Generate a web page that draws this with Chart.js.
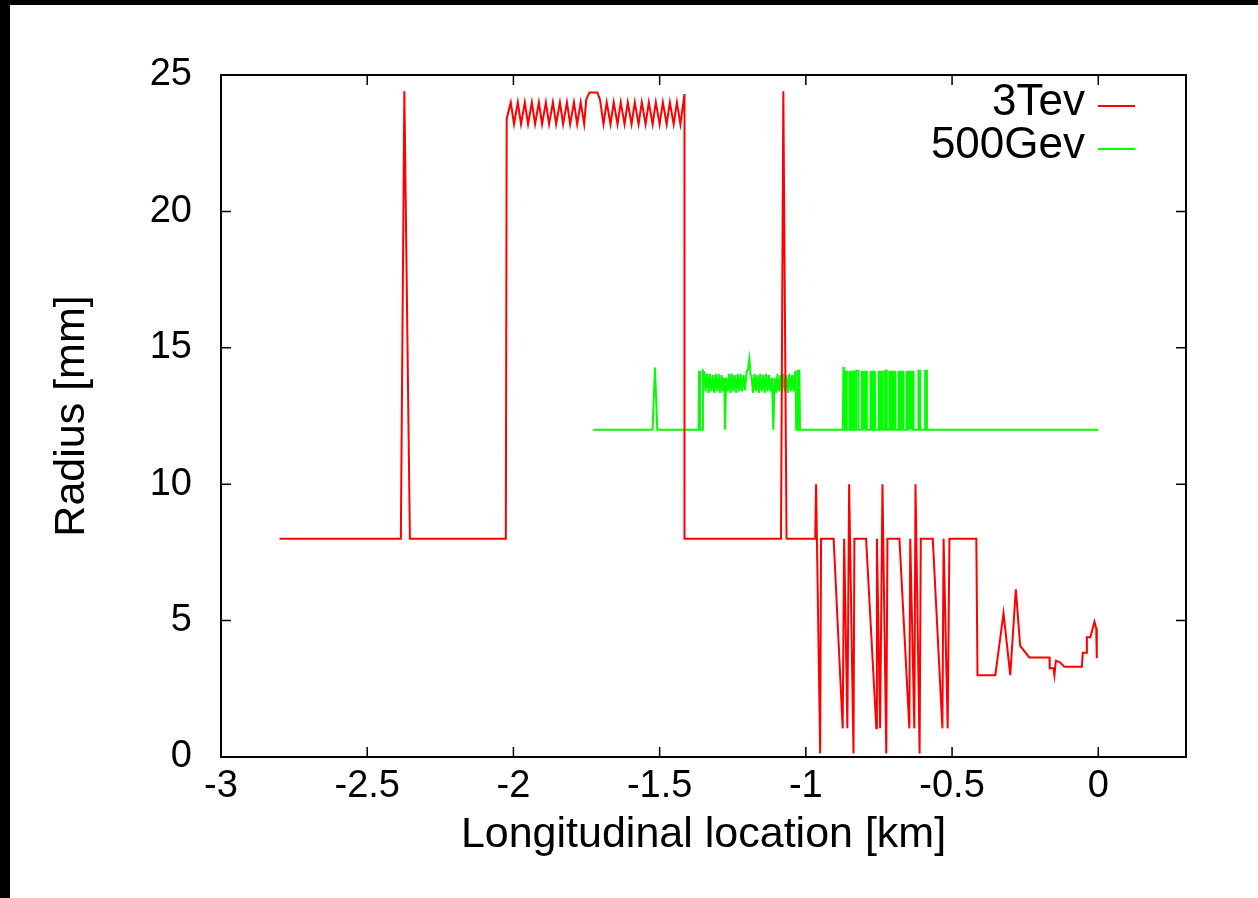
<!DOCTYPE html>
<html>
<head>
<meta charset="utf-8">
<script src="https://cdn.jsdelivr.net/npm/chart.js@4.4.1/dist/chart.umd.min.js"></script>
<style>
  html, body { margin: 0; padding: 0; background: #000; overflow: hidden; }
  #wrap { position: absolute; left: 10px; top: 5px; width: 1248px; height: 893px; background: #fff; }
</style>
</head>
<body>
<div id="wrap"><canvas id="chart" width="1248" height="893"></canvas></div>
<script>
// Axis ticks
const xTicks = [-3, -2.5, -2, -1.5, -1, -0.5, 0];
const yTicks = [0, 5, 10, 15, 20, 25];

// 3Tev series (x in km, radius in mm)
const tevX = [
  -2.800, -2.385, -2.373, -2.354, -2.026, -2.023,
  -2.009, -1.998, -1.985, -1.974, -1.961, -1.950, -1.937, -1.926, -1.913, -1.902,
  -1.889, -1.878, -1.865, -1.854, -1.841, -1.830, -1.817, -1.806, -1.793, -1.782,
  -1.770, -1.758, -1.751, -1.740, -1.713, -1.704, -1.692,
  -1.681, -1.668, -1.657, -1.644, -1.633, -1.620, -1.609, -1.596, -1.585, -1.572,
  -1.561, -1.548, -1.537, -1.524, -1.513, -1.500, -1.489, -1.476, -1.465, -1.452,
  -1.441, -1.429, -1.415, -1.415,
  -1.085, -1.077, -1.066,
  -0.968, -0.965, -0.951, -0.948,
  -0.905, -0.874, -0.869, -0.858, -0.852, -0.837, -0.834,
  -0.794, -0.759, -0.757, -0.746, -0.738, -0.725, -0.721,
  -0.680, -0.646, -0.643, -0.629, -0.625, -0.611, -0.607,
  -0.566, -0.533, -0.529, -0.515, -0.509,
  -0.417, -0.413, -0.352, -0.324, -0.301, -0.282, -0.267, -0.236,
  -0.167, -0.166, -0.153, -0.150, -0.145, -0.133, -0.116,
  -0.056, -0.053, -0.041, -0.039, -0.027, -0.013, -0.007, -0.005
];
const tevY = [
  8, 8, 24.4, 8, 8, 23.4,
  24.0, 23.2, 24.0, 23.2, 24.0, 23.2, 24.0, 23.2, 24.0, 23.2,
  24.0, 23.2, 24.0, 23.2, 24.0, 23.2, 24.0, 23.2, 24.0, 23.2,
  24.0, 23.2, 24.1, 24.36, 24.36, 24.1, 23.2,
  24.0, 23.2, 24.0, 23.2, 24.0, 23.2, 24.0, 23.2, 24.0, 23.2,
  24.0, 23.2, 24.0, 23.2, 24.0, 23.2, 24.0, 23.2, 24.0, 23.2,
  24.0, 23.2, 24.3, 8,
  8, 24.4, 8,
  8, 10, 0.13, 8,
  8, 1.05, 8, 1.05, 10, 0.13, 8,
  8, 1.05, 8, 1.05, 10, 0.13, 8,
  8, 1.05, 8, 1.05, 10, 0.13, 8,
  8, 1.05, 8, 1.05, 8,
  8, 3.0, 3.0, 5.27, 3.0, 6.15, 4.07, 3.65,
  3.65, 3.25, 3.25, 3.0, 3.53, 3.49, 3.31,
  3.31, 3.82, 3.82, 4.39, 4.39, 4.96, 4.72, 3.62
];

// 500Gev series
const gevX = [
  -1.727, -1.524, -1.516, -1.508, -1.367, -1.365, -1.362, -1.355, -1.352, -1.347,
  -1.343, -1.338, -1.333, -1.328, -1.323, -1.318, -1.313, -1.308, -1.303, -1.298,
  -1.293, -1.288, -1.283, -1.279, -1.276, -1.273, -1.268, -1.263, -1.258, -1.253,
  -1.248, -1.243, -1.238, -1.233, -1.228, -1.223, -1.218, -1.213, -1.208, -1.203,
  -1.198, -1.193, -1.189, -1.185,
  -1.181, -1.176, -1.171, -1.166, -1.161, -1.156, -1.151, -1.146, -1.141, -1.136,
  -1.131, -1.126, -1.121, -1.116, -1.111, -1.107, -1.102, -1.097, -1.092, -1.087,
  -1.082, -1.077, -1.072, -1.067, -1.062, -1.057, -1.052, -1.047, -1.042, -1.037,
  -1.035, -1.033, -1.029, -1.027, -1.022, -1.020, -0.8735,
  -0.8715, -0.870, -0.868, -0.866, -0.864, -0.862, -0.860, -0.860,
  -0.851, -0.851, -0.849, -0.847, -0.845, -0.843, -0.841, -0.839, -0.837, -0.835, -0.835,
  -0.828, -0.828, -0.820, -0.820,
  -0.808, -0.808, -0.806, -0.804, -0.802, -0.800, -0.798, -0.796, -0.794, -0.792, -0.791,
  -0.780, -0.780, -0.778, -0.776, -0.774, -0.772, -0.770, -0.768, -0.766, -0.764, -0.763,
  -0.751, -0.751, -0.749, -0.747, -0.745, -0.743, -0.741, -0.739, -0.737,
  -0.729, -0.729, -0.723, -0.723,
  -0.714, -0.714, -0.712, -0.710, -0.708, -0.706, -0.704, -0.702, -0.700, -0.698, -0.696, -0.694, -0.694,
  -0.683, -0.683, -0.681, -0.679, -0.677, -0.675, -0.673, -0.671, -0.669, -0.667, -0.666,
  -0.655, -0.655, -0.653, -0.651, -0.649, -0.647, -0.645, -0.643, -0.641, -0.639, -0.637, -0.635, -0.633, -0.632, -0.632,
  -0.615, -0.615, -0.609, -0.609,
  -0.592, -0.592, -0.586, -0.586,
  0
];
const gevY = [
  12, 12, 14.28, 12, 12, 14.16, 12, 12, 14.16, 14.1,
  13.4, 14.05, 13.35, 14.05, 13.4, 14.0, 13.35, 14.05, 13.4, 14.05,
  13.35, 14.0, 13.4, 13.9, 12, 13.9, 13.4, 14.05, 13.35, 14.05,
  13.4, 14.0, 13.35, 14.05, 13.4, 14.05, 13.4, 14.0, 13.45, 14.1,
  14.2, 14.59, 14.0, 13.9,
  13.35, 14.05, 13.4, 14.0, 13.35, 14.05, 13.4, 14.0, 13.35, 14.05,
  13.4, 14.0, 13.4, 13.9, 12, 13.9, 13.35, 14.05, 13.4, 14.0,
  13.35, 14.05, 13.4, 14.0, 13.35, 14.05, 13.4, 14.0, 13.4, 14.1,
  14.16, 12, 12, 14.16, 14.16, 12, 12,
  14.3, 12.2, 14.16, 12, 14.16, 12, 14.16, 12,
  12, 14.16, 12, 14.16, 12, 14.16, 12, 14.16, 12, 14.16, 12,
  12, 14.16, 14.16, 12,
  12, 14.16, 12, 14.16, 12, 14.16, 12, 14.16, 12, 14.16, 12,
  12, 14.16, 12, 14.16, 12, 14.16, 12, 14.16, 12, 14.16, 12,
  12, 14.16, 12, 14.16, 12, 14.16, 12, 14.16, 12,
  12, 14.16, 14.16, 12,
  12, 14.16, 12, 14.16, 12, 14.16, 12, 14.16, 12, 14.16, 12, 14.16, 12,
  12, 14.16, 12, 14.16, 12, 14.16, 12, 14.16, 12, 14.16, 12,
  12, 14.16, 12, 14.16, 12, 14.16, 12, 14.16, 12, 14.16, 12, 14.16, 12, 14.16, 12,
  12, 14.16, 14.16, 12,
  12, 14.16, 14.16, 12,
  12
];

const FONT = "'Liberation Sans', Arial, sans-serif";
const TICK_SIZE = 38;
const TITLE_SIZE = 43;
const LEGEND_SIZE = 44;

const toPoints = (xs, ys) => xs.map((x, i) => ({ x, y: ys[i] }));

// gnuplot style box with inward ticks on all four sides
const framePlugin = {
  id: "frame",
  afterDatasetsDraw(chart) {
    const { ctx, chartArea: a, scales } = chart;
    ctx.save();
    ctx.strokeStyle = "#000";
    ctx.lineWidth = 1.5;
    ctx.beginPath();
    xTicks.forEach(v => {
      const px = scales.x.getPixelForValue(v);
      ctx.moveTo(px, a.bottom); ctx.lineTo(px, a.bottom - 10);
      ctx.moveTo(px, a.top); ctx.lineTo(px, a.top + 10);
    });
    yTicks.forEach(v => {
      const py = scales.y.getPixelForValue(v);
      ctx.moveTo(a.left, py); ctx.lineTo(a.left + 10, py);
      ctx.moveTo(a.right, py); ctx.lineTo(a.right - 10, py);
    });
    ctx.stroke();
    ctx.lineWidth = 2;
    ctx.strokeRect(a.left, a.top, a.right - a.left, a.bottom - a.top);

    // legend: label right aligned, then line sample
    ctx.font = `${LEGEND_SIZE}px ${FONT}`;
    ctx.textAlign = "right";
    ctx.textBaseline = "middle";
    chart.data.datasets.forEach((ds, i) => {
      const y = 101 + i * 43;
      ctx.fillStyle = "#000";
      ctx.fillText(ds.label, 1075, y - 3);
      ctx.strokeStyle = ds.borderColor;
      ctx.lineWidth = 2;
      ctx.beginPath();
      ctx.moveTo(1088, y); ctx.lineTo(1125, y);
      ctx.stroke();
    });
    ctx.restore();
  }
};

new Chart(document.getElementById("chart"), {
  type: "line",
  data: {
    datasets: [
      { label: "3Tev", data: toPoints(tevX, tevY), borderColor: "#ff0000", borderWidth: 2, pointRadius: 0, tension: 0 },
      { label: "500Gev", data: toPoints(gevX, gevY), borderColor: "#00ff00", borderWidth: 2, pointRadius: 0, tension: 0 }
    ]
  },
  options: {
    responsive: false,
    animation: false,
    events: [],
    layout: { padding: { left: 0, top: 70, right: 72, bottom: 0 } },
    plugins: { legend: { display: false }, tooltip: { enabled: false } },
    scales: {
      x: {
        type: "linear",
        min: -3,
        max: 0.3,
        afterBuildTicks: s => { s.ticks = xTicks.map(v => ({ value: v })); },
        afterFit: s => { s.height = 141; },
        grid: { display: false, drawTicks: false },
        border: { display: false },
        ticks: { color: "#000", font: { family: FONT, size: TICK_SIZE }, padding: 7, maxRotation: 0, callback: v => String(v) },
        title: { display: true, text: "Longitudinal location [km]", color: "#000", font: { family: FONT, size: TITLE_SIZE }, padding: { bottom: 37 } }
      },
      y: {
        min: 0,
        max: 25,
        afterBuildTicks: s => { s.ticks = yTicks.map(v => ({ value: v })); },
        afterFit: s => { s.width = 211; },
        grid: { display: false, drawTicks: false },
        border: { display: false },
        ticks: { color: "#000", font: { family: FONT, size: TICK_SIZE }, padding: 29, callback: v => String(v) },
        title: { display: true, text: "Radius [mm]", color: "#000", font: { family: FONT, size: TITLE_SIZE }, padding: { top: 36 } }
      }
    }
  },
  plugins: [framePlugin]
});
</script>
</body>
</html>
